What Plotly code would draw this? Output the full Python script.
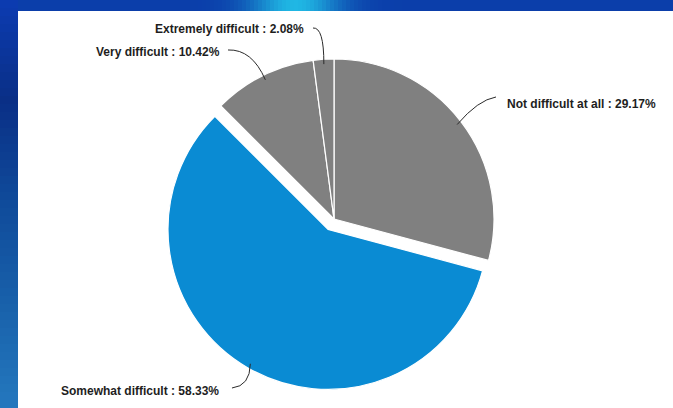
import math
import plotly.graph_objects as go

# Survey answers and their shares (percent)
categories = ["Not difficult at all", "Somewhat difficult", "Very difficult", "Extremely difficult"]
shares = [29.17, 58.33, 10.42, 2.08]
slice_colors = ["#808080", "#0a8bd3", "#808080", "#808080"]
pulled = [0, 1, 0, 0]

W, H = 673, 408
CX, CY, R = 334, 219, 160     # pie centre and radius in pixels
PULL = 0.075                  # pull of the highlighted slice, fraction of radius


def px(x):
    return x / W


def py(y):
    return 1 - y / H


def mix(c1, c2, t):
    a = [int(c1[i:i + 2], 16) for i in (1, 3, 5)]
    b = [int(c2[i:i + 2], 16) for i in (1, 3, 5)]
    return "#" + "".join("{:02x}".format(round(u + (v - u) * t)) for u, v in zip(a, b))


# pie domain chosen so that plotly's radius = box / (2 + 2*pull) equals R
half = R * (1 + PULL)
domain_x = [px(CX - half), px(CX + half)]
domain_y = [py(CY + half), py(CY - half)]

fig = go.Figure()
fig.add_trace(go.Pie(
    labels=categories,
    values=shares,
    sort=False,
    direction="clockwise",
    rotation=0,
    pull=[PULL * p for p in pulled],
    marker=dict(colors=slice_colors, line=dict(color="white", width=1.2)),
    textinfo="none",
    hoverinfo="label+percent",
    showlegend=False,
    domain=dict(x=domain_x, y=domain_y),
))

# label text positions and leader-line shapes (pixels)
label_layout = {
    "Not difficult at all": dict(tx=505, ty=104, xanchor="left", lx=496, ly=97, qx=478, qy=100),
    "Somewhat difficult": dict(tx=221, ty=391, xanchor="right", lx=232, ly=388, qx=250, qy=386),
    "Very difficult": dict(tx=222, ty=52, xanchor="right", lx=228, ly=50, qx=252, qy=49),
    "Extremely difficult": dict(tx=306, ty=29, xanchor="right", lx=313, ly=28, qx=324, qy=27),
}

shapes = []
annotations = []

# blue slide background: vertical gradient on the left strip
stops = [(0, "#0c3cb2"), (100, "#0a2f86"), (200, "#0f4a9a"), (300, "#1860aa"), (408, "#2478be")]
step = 8
for y0 in range(0, H, step):
    yc = y0 + step / 2
    for (ya, ca), (yb, cb) in zip(stops[:-1], stops[1:]):
        if ya <= yc <= yb:
            col = mix(ca, cb, (yc - ya) / (yb - ya))
            break
    shapes.append(dict(type="rect", xref="paper", yref="paper", layer="below",
                       x0=0, x1=px(18), y0=py(min(y0 + step, H)), y1=py(y0),
                       fillcolor=col, line=dict(width=0)))

# top strip with a cyan glow
stepx = 4
for x0 in range(18, W, stepx):
    xc = x0 + stepx / 2
    t = math.exp(-((xc - 295) / 45.0) ** 2)
    col = mix("#0b3eaa", "#22c4ea", 0.9 * t)
    shapes.append(dict(type="rect", xref="paper", yref="paper", layer="below",
                       x0=px(x0), x1=px(min(x0 + stepx, W)), y0=py(11), y1=1,
                       fillcolor=col, line=dict(width=0)))

# white chart panel
shapes.append(dict(type="rect", xref="paper", yref="paper", layer="below",
                   x0=px(18), x1=1, y0=0, y1=py(11),
                   fillcolor="white", line=dict(width=0)))

total = sum(shares)
cum = 0.0
for cat, val, p in zip(categories, shares, pulled):
    mid = (cum + val / 2) / total * 2 * math.pi
    cum += val
    cx = CX + PULL * R * p * math.sin(mid)
    cy = CY - PULL * R * p * math.cos(mid)
    ex = cx + 0.97 * R * math.sin(mid)
    ey = cy - 0.97 * R * math.cos(mid)
    lay = label_layout[cat]
    path = "M {:.4f},{:.4f} Q {:.4f},{:.4f} {:.4f},{:.4f}".format(
        px(lay["lx"]), py(lay["ly"]), px(lay["qx"]), py(lay["qy"]), px(ex), py(ey))
    shapes.append(dict(type="path", xref="paper", yref="paper", layer="above",
                       path=path, line=dict(color="#2a2a2a", width=1)))
    annotations.append(dict(
        x=px(lay["tx"]), y=py(lay["ty"]), xref="paper", yref="paper",
        xanchor=lay["xanchor"], yanchor="middle", showarrow=False,
        text="<b>{} : {:.2f}%</b>".format(cat, val),
        font=dict(family="Liberation Sans, Arial, sans-serif", size=12, color="#1e1e1e"),
    ))

fig.update_layout(
    width=W, height=H, autosize=False,
    margin=dict(l=0, r=0, t=0, b=0),
    paper_bgcolor="#0a3a98",
    plot_bgcolor="white",
    shapes=shapes,
    annotations=annotations,
)

fig.write_html("out.html")
